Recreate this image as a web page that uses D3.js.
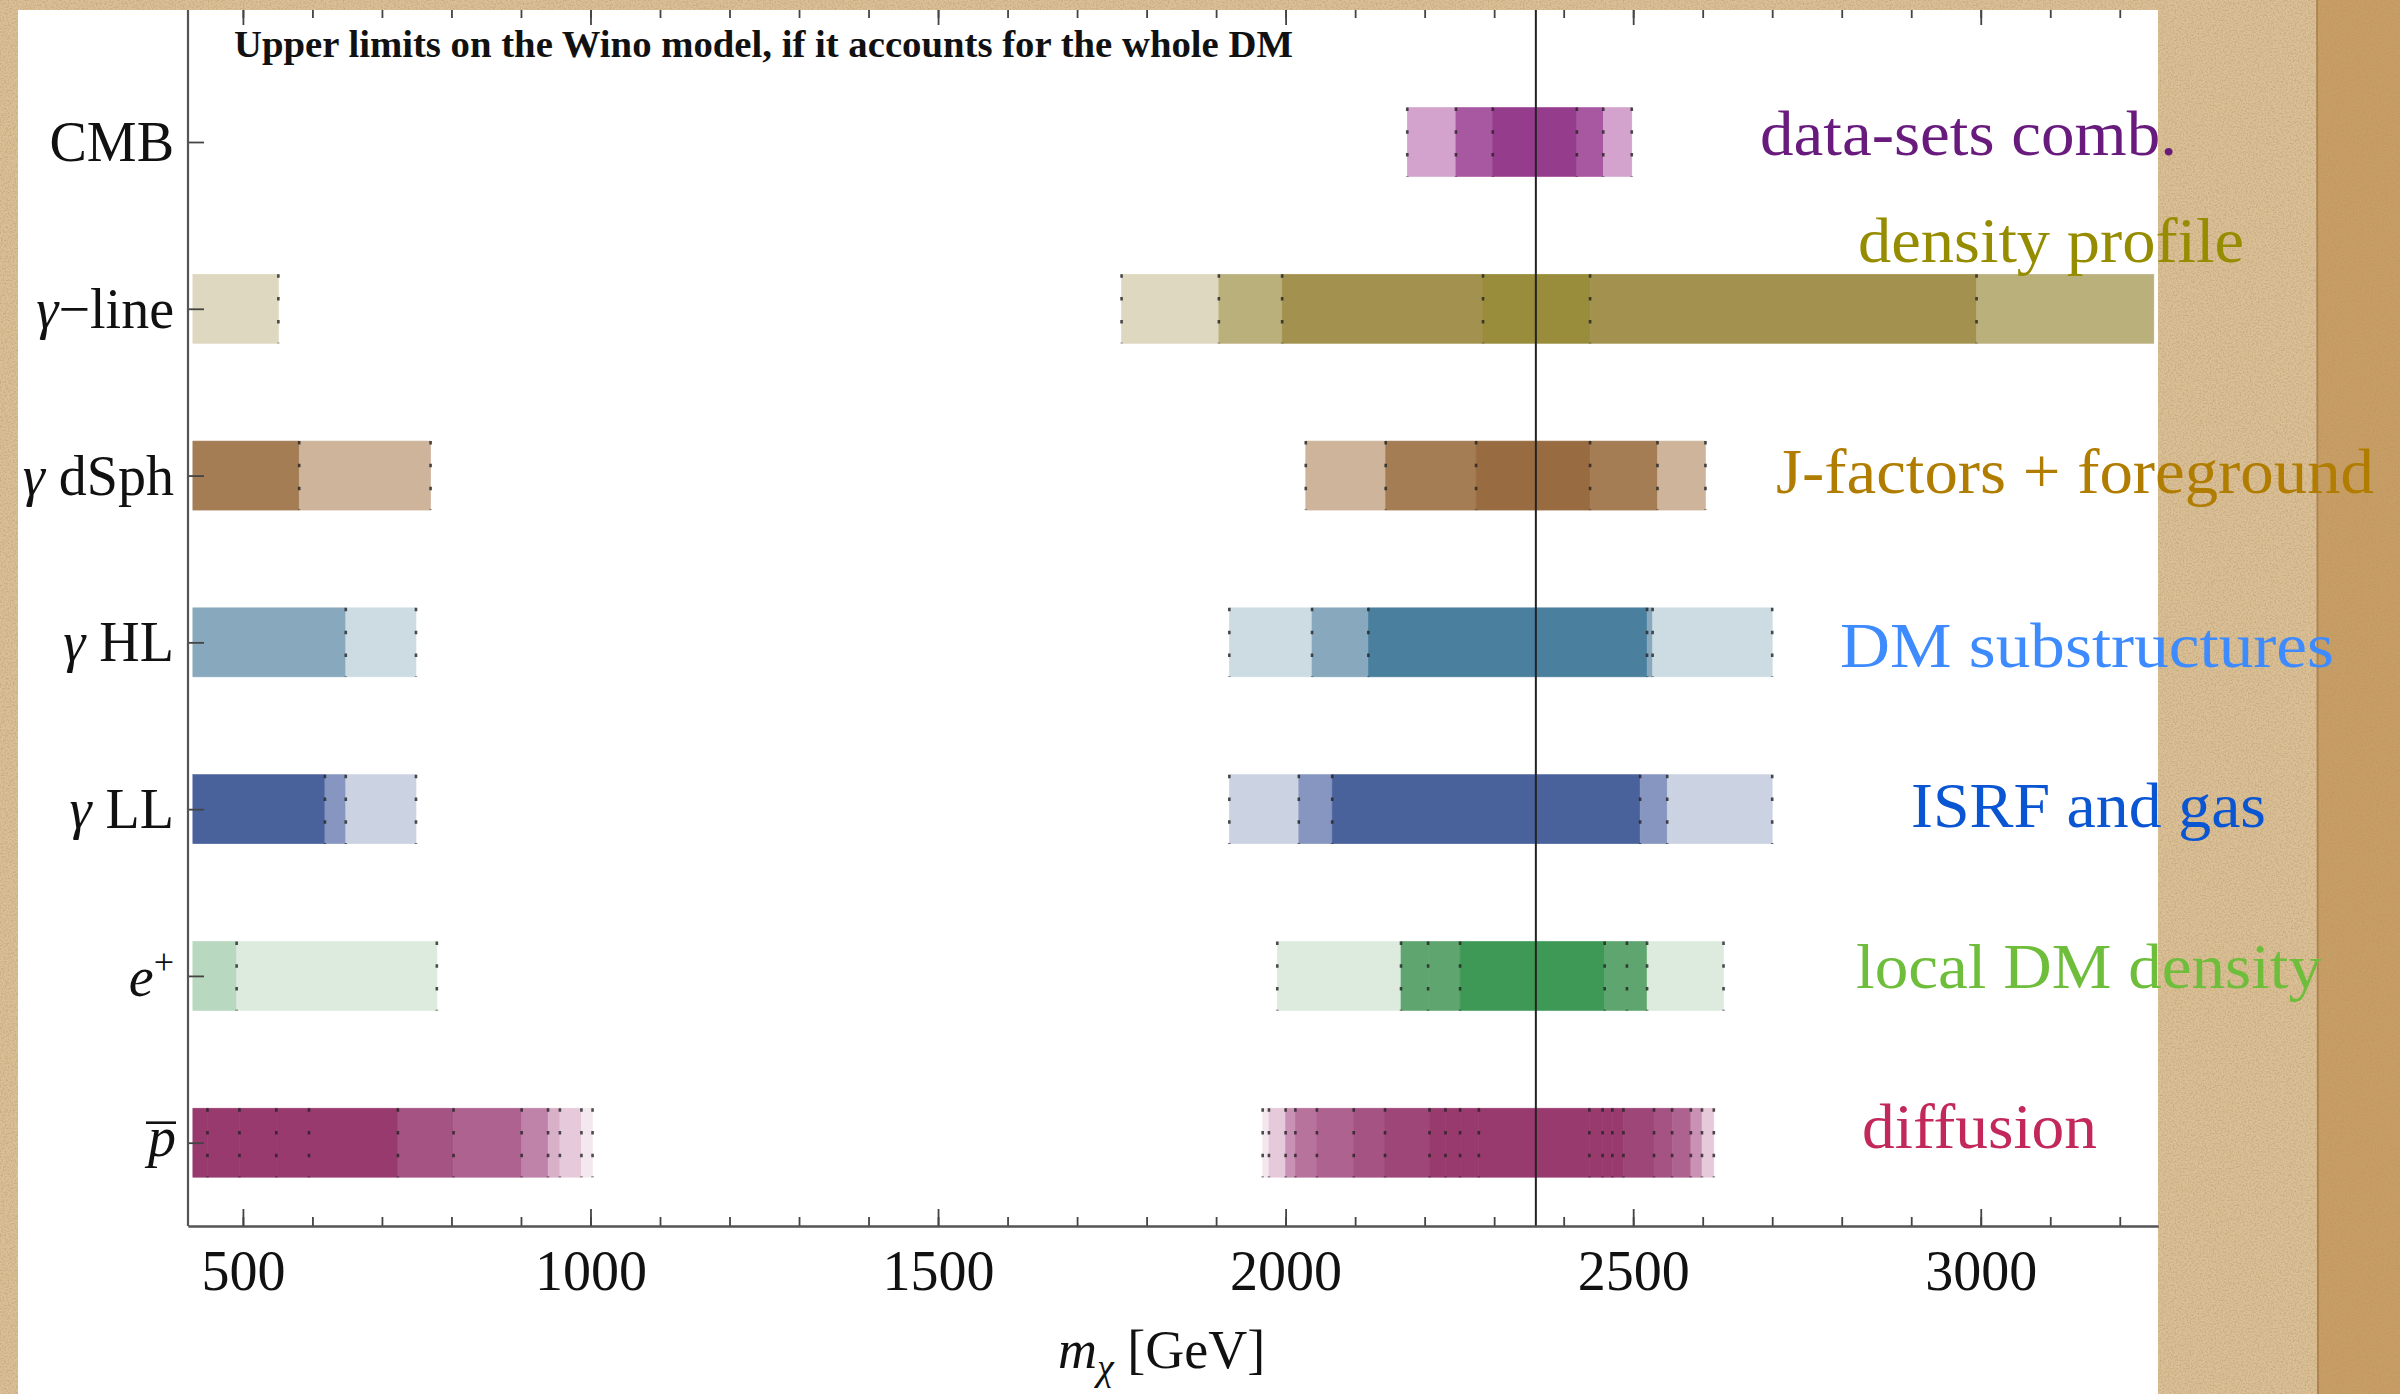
<!DOCTYPE html>
<html>
<head>
<meta charset="utf-8">
<script src="https://cdn.jsdelivr.net/npm/d3@7"></script>
<style>
  html, body { margin: 0; padding: 0; background: #d8bd94; }
  svg { display: block; }
</style>
</head>
<body>
<div id="chart"></div>
<script>
// ---- data ----
const categories = ["CMB", "γ−line", "γ dSph", "γ HL", "γ LL", "e+", "pbar"];
const xDomain = [421, 3255];
const majorTicks = [500, 1000, 1500, 2000, 2500, 3000];
const minorTicks = [500, 600, 700, 800, 900, 1000, 1100, 1200, 1300, 1400, 1500, 1600, 1700, 1800,
  1900, 2000, 2100, 2200, 2300, 2400, 2500, 2600, 2700, 2800, 2900, 3000, 3100, 3200];
const winoMass = 2360;
// edges where the scan stops (no dotted boundary drawn)
const openEdges = [428, 3249];

// excluded mass ranges: edges in GeV, level = how many variations exclude that slice
const cmbBlocks = [
  { edges: [2175, 2245, 2298, 2419, 2457, 2498], levels: [1, 2, 3, 2, 1] }
];
const gammaLineBlocks = [
  { edges: [428, 551], levels: [1] },
  { edges: [1764, 1904, 1995, 2284, 2438, 2994, 3249], levels: [1, 2, 3, 4, 3, 2] }
];
const dSphBlocks = [
  { edges: [428, 581, 770], levels: [2, 1] },
  { edges: [2029, 2144, 2274, 2438, 2535, 2604], levels: [1, 2, 3, 2, 1] }
];
const hlBlocks = [
  { edges: [428, 648, 749], levels: [2, 1] },
  { edges: [1919, 2038, 2119, 2520, 2528, 2700], levels: [1, 2, 3, 2, 1] }
];
const llBlocks = [
  { edges: [428, 618, 648, 749], levels: [3, 2, 1] },
  { edges: [1919, 2019, 2067, 2510, 2549, 2700], levels: [1, 2, 3, 2, 1] }
];
const ePlusBlocks = [
  { edges: [428, 491, 779], levels: [2, 1] },
  { edges: [1988, 2166, 2205, 2251, 2459, 2491, 2520, 2630], levels: [1, 3, 3, 4, 3, 3, 1] }
];
const pBarBlocks = [
  { edges: [428, 449, 495, 548, 595, 723, 803, 901, 939, 956, 987, 1003],
    levels: [10, 10, 10, 10, 10, 8, 7, 5, 3, 2, 1] },
  { edges: [1967, 1976, 2000, 2014, 2045, 2098, 2143, 2207, 2230, 2251, 2278, 2437, 2456, 2470, 2486, 2530, 2556, 2583, 2599, 2616],
    levels: [1, 2, 4, 6, 7, 8, 9, 10, 10, 10, 10, 10, 10, 10, 9, 8, 7, 4, 2] }
];
const rowBlocks = [cmbBlocks, gammaLineBlocks, dSphBlocks, hlBlocks, llBlocks, ePlusBlocks, pBarBlocks];

const notes = ["data-sets comb.", "density profile", "J-factors + foreground", "DM substructures",
  "ISRF and gas", "local DM density", "diffusion"];
const title = "Upper limits on the Wino model, if it accounts for the whole DM";

// ---- styles ----
const palettes = [
  ["#d4a3cd", "#a858a0", "#963c8c"],
  ["#ddd8bf", "#bab07c", "#a3924f", "#998c3b"],
  ["#cdb49b", "#a47d55", "#986c40"],
  ["#cddce3", "#88a8be", "#4a809e"],
  ["#cbd2e2", "#8796c0", "#4a629c"],
  ["#dcebde", "#b8d8c0", "#5fa56f", "#3e9956"],
  ["#f4e8ef", "#e6cadb", "#d8b0c8", "#c991b3", "#bf82a8", "#b8739c", "#ae6290", "#a55383", "#9d4677", "#983a6e"]
];
const noteStyle = [
  { color: "#681a7d", x: 1760, y: 155, w: 417 },
  { color: "#968c00", x: 1858, y: 262, w: 386 },
  { color: "#b07d00", x: 1776, y: 493, w: 598 },
  { color: "#3d8bff", x: 1840, y: 667, w: 494 },
  { color: "#0a55d2", x: 1911, y: 827, w: 355 },
  { color: "#6ebe3c", x: 1856, y: 988, w: 466 },
  { color: "#c3285a", x: 1862, y: 1148, w: 235 }
];

const W = 2400, H = 1394;
const plot = { left: 188, right: 2158, top: 10, bottom: 1226 };
const barH = 69;
const serif = "'Liberation Serif', 'Times New Roman', serif";

const svg = d3.select("#chart").append("svg").attr("width", W).attr("height", H);
const defs = svg.append("defs");

// paper texture
const paper = defs.append("filter").attr("id", "paper")
  .attr("x", 0).attr("y", 0).attr("width", "100%").attr("height", "100%");
paper.append("feTurbulence").attr("type", "fractalNoise")
  .attr("baseFrequency", "0.6").attr("numOctaves", 3).attr("seed", 5).attr("result", "n");
paper.append("feColorMatrix").attr("in", "n").attr("type", "matrix")
  .attr("values", "0 0 0 0 0.42  0 0 0 0 0.29  0 0 0 0 0.12  2.2 0 0 0 -0.9");

defs.append("clipPath").attr("id", "plotClip").append("rect")
  .attr("x", plot.left).attr("y", plot.top)
  .attr("width", plot.right - plot.left).attr("height", plot.bottom - plot.top);

svg.append("rect").attr("width", W).attr("height", H).attr("fill", "#dbbf96");
svg.append("rect").attr("x", 2317).attr("width", W - 2317).attr("height", H).attr("fill", "#c99e65");
svg.append("rect").attr("width", W).attr("height", H).attr("filter", "url(#paper)").attr("opacity", 0.5);
svg.append("line").attr("x1", 2317).attr("x2", 2318).attr("y1", 0).attr("y2", H)
  .attr("stroke", "#a47b48").attr("stroke-width", 2).attr("opacity", 0.7);

// white figure panel
svg.append("rect").attr("x", 18).attr("y", plot.top)
  .attr("width", plot.right - 18).attr("height", H - plot.top).attr("fill", "#ffffff");

// ---- scales ----
const x = d3.scaleLinear().domain(xDomain).range([plot.left, plot.right]);
const y = d3.scalePoint().domain(categories).range([142, 1142.7]);

// ---- bars ----
const barsG = svg.append("g").attr("clip-path", "url(#plotClip)");
rowBlocks.forEach((blocks, i) => {
  const cy = y(categories[i]);
  const pal = palettes[i];
  blocks.forEach(b => {
    const segs = b.levels.map((lv, j) => ({ lo: b.edges[j], hi: b.edges[j + 1], lv }));
    barsG.append("g").selectAll("rect").data(segs).enter().append("rect")
      .attr("x", d => x(d.lo))
      .attr("width", d => x(d.hi) - x(d.lo))
      .attr("y", cy - barH / 2)
      .attr("height", barH)
      .attr("fill", d => pal[d.lv - 1])
      .attr("stroke", d => pal[d.lv - 1])
      .attr("stroke-width", 0.6);
  });
  blocks.forEach(b => {
    const ed = b.edges.filter(e => !openEdges.includes(e));
    barsG.append("g").selectAll("line").data(ed).enter().append("line")
      .attr("x1", d => x(d)).attr("x2", d => x(d))
      .attr("y1", cy - barH / 2).attr("y2", cy + barH / 2)
      .attr("stroke", "#222")
      .attr("stroke-width", 2.6)
      .attr("stroke-dasharray", "3.5 19.3")
      .attr("opacity", 0.8);
  });
});

// reference mass line
svg.append("line")
  .attr("x1", x(winoMass)).attr("x2", x(winoMass))
  .attr("y1", plot.top).attr("y2", plot.bottom)
  .attr("stroke", "#222").attr("stroke-width", 2);

// ---- axes ----
function styleAxis(g) {
  g.selectAll(".domain").attr("stroke", "#555").attr("stroke-width", 2.2);
  g.selectAll(".tick line").attr("stroke", "#444").attr("stroke-width", 1.8);
}

svg.append("g").attr("transform", `translate(0,${plot.bottom})`)
  .call(d3.axisBottom(x).tickValues(minorTicks).tickSize(-9).tickSizeOuter(0).tickFormat(""))
  .call(styleAxis);
const xMaj = svg.append("g").attr("transform", `translate(0,${plot.bottom})`)
  .call(d3.axisBottom(x).tickValues(majorTicks).tickSize(-17).tickSizeOuter(0).tickPadding(24).tickFormat(d3.format("d")))
  .call(styleAxis);
xMaj.selectAll(".tick text").attr("font-family", serif).attr("font-size", 56).attr("fill", "#111");

svg.append("g").attr("transform", `translate(0,${plot.top})`)
  .call(d3.axisTop(x).tickValues(minorTicks).tickSize(-8).tickFormat(""))
  .call(g => g.select(".domain").remove())
  .call(styleAxis);
svg.append("g").attr("transform", `translate(0,${plot.top})`)
  .call(d3.axisTop(x).tickValues(majorTicks).tickSize(-15).tickFormat(""))
  .call(g => g.select(".domain").remove())
  .call(styleAxis);

svg.append("g").attr("transform", `translate(${plot.left},0)`)
  .call(d3.axisLeft(y).tickSize(-16).tickFormat(""))
  .call(g => g.select(".domain").remove())
  .call(styleAxis);
svg.append("line").attr("x1", plot.left).attr("x2", plot.left)
  .attr("y1", plot.top).attr("y2", plot.bottom)
  .attr("stroke", "#555").attr("stroke-width", 2.2);

// category labels with math formatting
const labG = svg.append("g").attr("font-family", serif).attr("font-size", 56).attr("fill", "#111");
categories.forEach(c => {
  const cy = y(c);
  const t = labG.append("text").attr("x", 174).attr("text-anchor", "end");
  if (c === "CMB") {
    t.attr("y", cy + 19).text("CMB");
  } else if (c.startsWith("γ")) {
    t.attr("y", cy + 19);
    t.append("tspan").attr("font-style", "italic").text("γ");
    t.append("tspan").text(c.slice(1));
  } else if (c === "e+") {
    t.attr("y", cy + 20);
    t.append("tspan").attr("font-style", "italic").text("e");
    t.append("tspan").attr("font-size", 36).attr("dy", -22).text("+");
  } else {
    t.attr("y", cy + 13).attr("x", 176);
    t.append("tspan").attr("font-style", "italic").text("p");
    labG.append("line").attr("x1", 146).attr("x2", 176)
      .attr("y1", cy - 20).attr("y2", cy - 20)
      .attr("stroke", "#111").attr("stroke-width", 2.6);
  }
});

// axis title
const xt = svg.append("text").attr("x", 1058).attr("y", 1368)
  .attr("font-family", serif).attr("font-size", 54).attr("fill", "#111");
xt.append("tspan").attr("font-style", "italic").text("m");
xt.append("tspan").attr("font-style", "italic").attr("font-size", 38).attr("dy", 12).text("χ");
xt.append("tspan").attr("dy", -12).text(" [GeV]");

// plot title
svg.append("text").attr("x", 234).attr("y", 57)
  .attr("font-family", serif).attr("font-weight", "bold").attr("font-size", 37)
  .attr("fill", "#111")
  .attr("textLength", 1059).attr("lengthAdjust", "spacingAndGlyphs")
  .text(title);

// right-hand annotations
svg.append("g").selectAll("text").data(notes).enter().append("text")
  .attr("x", (d, i) => noteStyle[i].x)
  .attr("y", (d, i) => noteStyle[i].y)
  .attr("fill", (d, i) => noteStyle[i].color)
  .attr("font-family", serif)
  .attr("font-size", 64)
  .attr("textLength", (d, i) => noteStyle[i].w)
  .attr("lengthAdjust", "spacingAndGlyphs")
  .text(d => d);
</script>
</body>
</html>
